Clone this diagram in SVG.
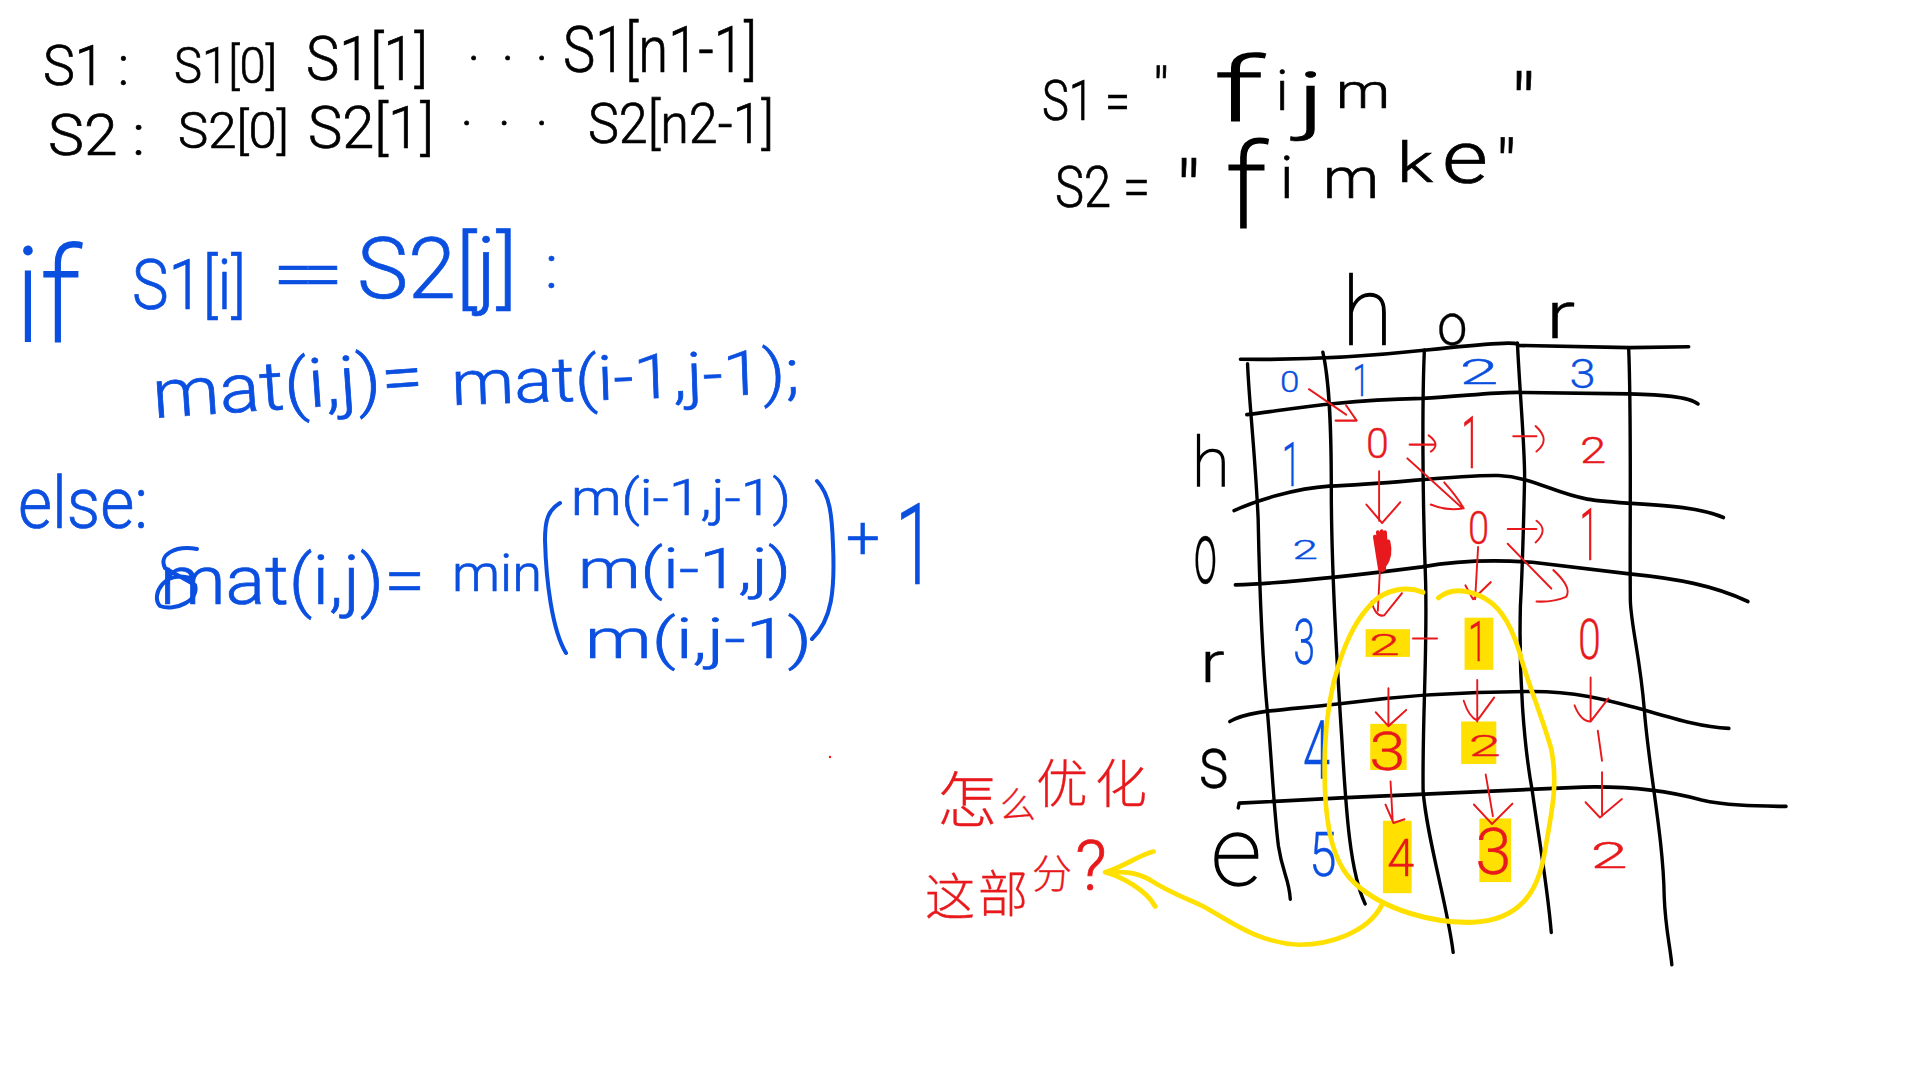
<svg xmlns="http://www.w3.org/2000/svg" width="1920" height="1080" viewBox="0 0 1920 1080">
<style>
text{font-family:Roboto,"Liberation Sans","Noto Sans CJK SC",sans-serif;font-weight:300;stroke-width:.7}
.k{fill:#000;stroke:#000}.b{fill:#0a4fe0;stroke:#0a4fe0}.r{fill:#e8191c;stroke:#e8191c}
.cjk{font-family:"Noto Sans CJK SC",sans-serif;font-weight:300;stroke-width:.3}
.th{font-weight:100;stroke-width:3}
.gl{fill:none;stroke:#000;stroke-width:8;stroke-linecap:round;stroke-linejoin:round}
.ar{fill:none;stroke:#e8191c;stroke-width:4.5;stroke-linecap:round;stroke-linejoin:round}
.bl{fill:none;stroke:#0a4fe0;stroke-width:4;stroke-linecap:round}
.hl{fill:#ffe000}
.ye{fill:none;stroke:#ffe000;stroke-width:11;stroke-linecap:round;stroke-linejoin:round}
</style>
<rect width="1920" height="1080" fill="#fff"/>

<g id="definitions" class="k">
<text x="43" y="85" font-size="55" textLength="86" lengthAdjust="spacingAndGlyphs">S1 :</text>
<text x="174" y="83" font-size="50" textLength="103" lengthAdjust="spacingAndGlyphs">S1[0]</text>
<text x="306" y="80" font-size="62" textLength="122" lengthAdjust="spacingAndGlyphs">S1[1]</text>
<text x="468" y="60" font-size="50" textLength="80" lengthAdjust="spacing">. . .</text>
<text x="563" y="72" font-size="65" textLength="194" lengthAdjust="spacingAndGlyphs">S1[n1-1]</text>
<text x="48" y="155" font-size="58" textLength="97" lengthAdjust="spacingAndGlyphs">S2 :</text>
<text x="178" y="148" font-size="50" textLength="111" lengthAdjust="spacingAndGlyphs">S2[0]</text>
<text x="308" y="148" font-size="60" textLength="126" lengthAdjust="spacingAndGlyphs">S2[1]</text>
<text x="461" y="125" font-size="50" textLength="87" lengthAdjust="spacing">. . .</text>
<text x="588" y="143" font-size="55" textLength="186" lengthAdjust="spacingAndGlyphs">S2[n2-1]</text>
</g>

<g id="examples" class="k">
<text x="1042" y="120" font-size="55" textLength="88" lengthAdjust="spacingAndGlyphs">S1 =</text>
<text x="1153" y="107" font-size="55">"</text>
<text class="th" x="1215" y="120" font-size="88" textLength="47" lengthAdjust="spacingAndGlyphs">f</text>
<text x="1276" y="110" font-size="55">i</text>
<text x="1297" y="125" font-size="75" textLength="28" lengthAdjust="spacingAndGlyphs">j</text>
<text x="1336" y="108" font-size="48" textLength="54" lengthAdjust="spacingAndGlyphs">m</text>
<text x="1511" y="135" font-size="85">"</text>
<text x="1055" y="207" font-size="58" textLength="95" lengthAdjust="spacingAndGlyphs">S2 =</text>
<text x="1176" y="222" font-size="85">"</text>
<text class="th" x="1226" y="227" font-size="115" textLength="40" lengthAdjust="spacingAndGlyphs">f</text>
<text x="1280" y="198" font-size="60">i</text>
<text x="1323" y="198" font-size="58" textLength="56" lengthAdjust="spacingAndGlyphs">m</text>
<text x="1397" y="182" font-size="55" textLength="36" lengthAdjust="spacingAndGlyphs">k</text>
<text x="1442" y="183" font-size="75" textLength="46" lengthAdjust="spacingAndGlyphs">e</text>
<text x="1496" y="190" font-size="70">"</text>
</g>

<g id="recurrence" class="b">
<text class="th" x="15" y="341" font-size="130" textLength="65" lengthAdjust="spacingAndGlyphs">if</text>
<text x="132" y="309" font-size="70" textLength="114" lengthAdjust="spacingAndGlyphs">S1[i]</text>
<text x="274" y="298" font-size="70" textLength="68" lengthAdjust="spacing">==</text>
<text x="357" y="298" font-size="85" textLength="160" lengthAdjust="spacingAndGlyphs">S2[j]</text>
<text x="545" y="288" font-size="62">:</text>
<text x="154" y="418" font-size="68" textLength="271" lengthAdjust="spacingAndGlyphs" transform="rotate(-4 154 418)">mat(i,j)=</text>
<text x="452" y="405" font-size="62" textLength="348" lengthAdjust="spacingAndGlyphs" transform="rotate(-2 452 405)">mat(i-1,j-1);</text>
<text x="18" y="528" font-size="72" textLength="130" lengthAdjust="spacingAndGlyphs">else:</text>
<text x="160" y="604" font-size="68" textLength="265" lengthAdjust="spacingAndGlyphs">mat(i,j)=</text>
<text x="452" y="591" font-size="52" textLength="90" lengthAdjust="spacingAndGlyphs">min</text>
<text x="571" y="515" font-size="50" textLength="220" lengthAdjust="spacingAndGlyphs">m(i-1,j-1)</text>
<text x="578" y="588" font-size="55" textLength="213" lengthAdjust="spacingAndGlyphs">m(i-1,j)</text>
<text x="585" y="658" font-size="55" textLength="227" lengthAdjust="spacingAndGlyphs">m(i,j-1)</text>
<text x="846" y="558" font-size="60">+</text>
<text x="895" y="584" font-size="113" textLength="40" lengthAdjust="spacingAndGlyphs">1</text>
<path class="bl" d="M197 549C175 545 158 555 165 568L195 585C200 600 175 612 160 606C150 595 165 570 190 578"/>
<path class="bl" d="M560 503C548 510 545 520 545 540C546 580 552 630 566 653"/>
<path class="bl" d="M817 481C830 495 832 515 833 545C835 590 832 620 812 639"/>
</g>
<circle id="speck" cx="830" cy="757" r="1.2" fill="#e8191c"/>

<g id="table" transform="translate(1160 260) scale(.423 .4615)">
<g id="highlights" class="hl">
<rect x="486" y="800" width="105" height="60"/>
<rect x="720" y="775" width="68" height="113"/>
<rect x="497" y="1005" width="86" height="100"/>
<rect x="712" y="1000" width="83" height="92"/>
<rect x="527" y="1215" width="68" height="157"/>
<rect x="755" y="1210" width="75" height="138"/>
</g>
<g id="grid">
<path class="gl" d="M190 215Q400 218 630 195T845 185L1110 190L1250 188"/>
<path class="gl" d="M205 335C300 325 400 305 620 300C720 295 800 285 855 287L1110 290C1180 292 1250 295 1272 312"/>
<path class="gl" d="M175 543C230 520 320 495 400 490C550 485 700 465 800 467C880 470 930 505 1010 518C1100 532 1250 525 1332 558"/>
<path class="gl" d="M178 704C300 700 450 685 620 665C700 652 800 650 880 655L1110 680C1220 690 1310 705 1390 740"/>
<path class="gl" d="M165 1000C210 975 300 975 420 962C560 945 700 935 880 935C1000 935 1080 960 1145 975C1220 995 1280 1012 1345 1015"/>
<path class="gl" d="M185 1187L187 1177L440 1165C700 1155 900 1145 1000 1142C1100 1140 1200 1150 1280 1170C1340 1183 1420 1183 1480 1184"/>
<path class="gl" d="M207 225C210 300 225 420 232 560C235 700 240 850 255 990C265 1100 270 1200 280 1270C290 1330 305 1340 308 1385"/>
<path class="gl" d="M385 200C400 260 405 350 405 500C405 650 420 900 430 1040C440 1200 450 1330 485 1395"/>
<path class="gl" d="M625 195C620 300 620 500 628 700C632 850 620 1000 622 1150C630 1250 680 1400 693 1500"/>
<path class="gl" d="M845 180C850 280 862 400 862 470C860 550 858 650 852 750C848 900 860 1050 880 1150C895 1250 915 1350 925 1457"/>
<path class="gl" d="M1108 192C1115 350 1110 600 1112 740C1115 800 1135 860 1145 975C1155 1100 1190 1250 1192 1380C1195 1450 1205 1480 1210 1527"/>
</g>
<g id="labels" class="k">
<text class="th" x="430" y="185" font-size="205" textLength="120" lengthAdjust="spacingAndGlyphs">h</text>
<text x="655" y="185" font-size="130" textLength="72" lengthAdjust="spacingAndGlyphs">o</text>
<text x="912" y="170" font-size="145" textLength="70" lengthAdjust="spacingAndGlyphs">r</text>
<text class="th" x="75" y="490" font-size="150" textLength="90" lengthAdjust="spacingAndGlyphs">h</text>
<text x="80" y="700" font-size="190" textLength="55" lengthAdjust="spacingAndGlyphs">o</text>
<text x="95" y="915" font-size="125" textLength="58" lengthAdjust="spacingAndGlyphs">r</text>
<text x="90" y="1145" font-size="160" textLength="75" lengthAdjust="spacingAndGlyphs">s</text>
<text class="th" x="120" y="1355" font-size="210" textLength="120" lengthAdjust="spacingAndGlyphs">e</text>
</g>
<g id="indices" class="b">
<text x="284" y="287" font-size="64" textLength="46" lengthAdjust="spacingAndGlyphs">0</text>
<text x="455" y="295" font-size="98" textLength="40" lengthAdjust="spacingAndGlyphs">1</text>
<text x="708" y="268" font-size="74" textLength="92" lengthAdjust="spacingAndGlyphs">2</text>
<text x="968" y="278" font-size="88" textLength="62" lengthAdjust="spacingAndGlyphs">3</text>
<text x="288" y="490" font-size="132" textLength="45" lengthAdjust="spacingAndGlyphs">1</text>
<text x="313" y="648" font-size="54" textLength="60" lengthAdjust="spacingAndGlyphs">2</text>
<text x="315" y="875" font-size="138" textLength="52" lengthAdjust="spacingAndGlyphs">3</text>
<text x="338" y="1125" font-size="178" textLength="64" lengthAdjust="spacingAndGlyphs">4</text>
<text x="352" y="1335" font-size="132" textLength="65" lengthAdjust="spacingAndGlyphs">5</text>
</g>
<g id="values" class="r">
<text x="487" y="430" font-size="92" textLength="54" lengthAdjust="spacingAndGlyphs">0</text>
<text x="712" y="450" font-size="155" textLength="45" lengthAdjust="spacingAndGlyphs">1</text>
<text x="993" y="440" font-size="78" textLength="62" lengthAdjust="spacingAndGlyphs">2</text>
<text x="728" y="615" font-size="100" textLength="50" lengthAdjust="spacingAndGlyphs">0</text>
<text x="992" y="650" font-size="155" textLength="45" lengthAdjust="spacingAndGlyphs">1</text>
<text x="495" y="856" font-size="64" textLength="72" lengthAdjust="spacingAndGlyphs">2</text>
<text x="728" y="870" font-size="120" textLength="45" lengthAdjust="spacingAndGlyphs">1</text>
<text x="988" y="865" font-size="120" textLength="54" lengthAdjust="spacingAndGlyphs">0</text>
<text x="495" y="1105" font-size="118" textLength="86" lengthAdjust="spacingAndGlyphs">3</text>
<text x="730" y="1075" font-size="64" textLength="76" lengthAdjust="spacingAndGlyphs">2</text>
<text x="537" y="1335" font-size="114" textLength="64" lengthAdjust="spacingAndGlyphs">4</text>
<text x="745" y="1330" font-size="140" textLength="86" lengthAdjust="spacingAndGlyphs">3</text>
<text x="1018" y="1318" font-size="82" textLength="88" lengthAdjust="spacingAndGlyphs">2</text>
</g>
<g id="connectors">
<path class="ar" d="M352 280L440 335M415 348L465 348L440 315"/>
<path class="ar" d="M590 400H650M635 380Q665 400 640 415"/>
<path class="ar" d="M835 382H890M888 360Q925 390 890 415"/>
<path class="ar" d="M585 430L715 538M672 482Q700 510 718 538Q680 545 640 530"/>
<path class="ar" d="M518 458V565M488 530L525 570L568 525"/>
<path class="ar" d="M822 583H890M890 565Q920 585 888 612"/>
<path class="ar" d="M822 615L925 712M930 672Q975 710 960 730Q930 742 890 740"/>
<path class="ar" d="M752 622L745 735M722 705L740 735L782 698"/>
<path class="ar" d="M520 670L515 760M500 740Q510 775 530 770L572 722"/>
<path class="ar" d="M598 820H655"/>
<path class="ar" d="M750 910V1000M718 955Q730 990 750 998L790 948"/>
<path class="ar" d="M540 928V1005M510 980L540 1010L582 975"/>
<path class="ar" d="M1018 905V1000M980 965Q995 1000 1018 1000L1060 950"/>
<path class="ar" d="M1035 1020L1045 1085"/>
<path class="ar" d="M1045 1110V1205M1006 1175L1040 1208L1092 1168"/>
<path class="ar" d="M545 1130L550 1215M533 1180L552 1220L578 1212"/>
<path class="ar" d="M770 1115L787 1205M742 1180L785 1222L833 1178"/>
<path d="M508 600L520 670M515 590L526 672M524 588L530 670M532 590L536 655M540 610Q548 640 532 660" fill="none" stroke="#e8191c" stroke-width="9" stroke-linecap="round"/>
<path class="ye" d="M622 720C580 705 530 715 500 745C440 800 395 920 390 1060C385 1200 400 1300 460 1350C530 1410 650 1438 740 1435C850 1430 895 1370 910 1280C930 1180 940 1130 925 1060C900 980 870 920 850 850C830 790 800 730 720 718C695 714 675 720 658 732"/>
</g>
</g>

<g id="question" class="r">
<text class="cjk" x="937" y="822" font-size="60">怎</text>
<text class="cjk" x="1000" y="818" font-size="36">么</text>
<text class="cjk" x="1036 1095" y="803" font-size="52">优化</text>
<text class="cjk" x="925" y="915" font-size="50">这</text>
<text class="cjk" x="978" y="912" font-size="50">部</text>
<text class="cjk" x="1032" y="888" font-size="40">分</text>
<text x="1075" y="890" font-size="70">?</text>
</g>

<g id="callout" transform="translate(900 720) scale(.357 .333)">
<path fill="none" stroke="#ffe000" stroke-width="14" stroke-linecap="round" stroke-linejoin="round" d="M1350 555C1310 640 1200 675 1120 675C1000 670 920 600 850 560C800 535 750 515 700 480C660 455 620 455 575 457M710 395C670 405 620 445 575 457C620 470 690 510 715 560"/>
</g>
</svg>
